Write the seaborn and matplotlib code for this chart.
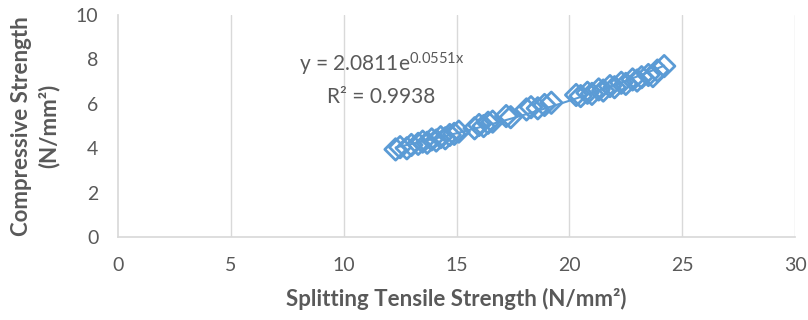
import numpy as np
import pandas as pd
import matplotlib
matplotlib.use("Agg")
import matplotlib.pyplot as plt
import seaborn as sns

# splitting tensile strength (x) vs compressive strength (y)
tensile = [12.3, 12.5, 12.8, 13.0, 13.3, 13.5, 13.7, 13.9, 14.1, 14.3, 14.5,
           14.7, 14.9, 15.1, 15.8, 16.0, 16.2, 16.4, 16.6, 17.2, 17.4, 18.1,
           18.3, 18.6, 18.9, 19.2, 20.3, 20.5, 20.8, 21.0, 21.3, 21.5, 21.8,
           22.0, 22.3, 22.5, 22.8, 23.0, 23.2, 23.5, 23.7, 23.9, 24.2]
compressive = [3.95, 4.05, 4.0, 4.15, 4.2, 4.3, 4.25, 4.4, 4.35, 4.5, 4.45,
               4.6, 4.65, 4.75, 4.9, 5.05, 5.0, 5.15, 5.2, 5.45, 5.4, 5.75,
               5.85, 5.8, 5.95, 6.05, 6.4, 6.35, 6.5, 6.45, 6.65, 6.6, 6.8,
               6.75, 6.95, 6.9, 7.1, 7.05, 7.2, 7.3, 7.25, 7.5, 7.7]
x_ticks = [0, 5, 10, 15, 20, 25, 30]
y_ticks = [0, 2, 4, 6, 8, 10]

blue = "#5B9BD5"
grey = "#595959"

sns.set_theme(style="white")
plt.rcParams['font.family'] = ['Lato', 'DejaVu Sans']
plt.rcParams['mathtext.fontset'] = 'custom'
plt.rcParams['mathtext.rm'] = 'Lato'
plt.rcParams['mathtext.it'] = 'Lato'

df = pd.DataFrame({"x": tensile, "y": compressive})

fig = plt.figure(figsize=(8.08, 3.2), dpi=100)
ax = fig.add_axes([0.146, 0.259, 0.838, 0.694])

# vertical gridlines only
for xt in x_ticks[1:]:
    ax.axvline(xt, color="#d9d9d9", lw=1, zorder=0)

sns.scatterplot(data=df, x="x", y="y", ax=ax, marker="D", s=120,
                facecolor="none", edgecolor=blue, linewidth=2, zorder=3)

# exponential trendline
b, ln_a = np.polyfit(df["x"], np.log(df["y"]), 1)
xs = np.linspace(df["x"].min(), df["x"].max(), 50)
ax.plot(xs, np.exp(ln_a) * np.exp(b * xs), color=blue, lw=1.5, zorder=2)

ax.text(8.0, 7.45, r"y = 2.0811e$^{\mathrm{0.0551x}}$", fontsize=15, color=grey)
ax.text(9.25, 6.05, "R² = 0.9938", fontsize=15, color=grey)

ax.set_xlim(0, 30)
ax.set_ylim(0, 10)
ax.set_xticks(x_ticks)
ax.set_yticks(y_ticks)
ax.tick_params(axis="both", colors=grey, labelsize=14, length=0)
ax.tick_params(axis="x", pad=14)
ax.tick_params(axis="y", pad=14)

for side in ["top", "right"]:
    ax.spines[side].set_visible(False)
ax.spines["left"].set_color("#d9d9d9")
ax.spines["bottom"].set_color("#d9d9d9")

ax.set_xlabel("Splitting Tensile Strength (N/mm²)", fontsize=16,
              fontweight="bold", color=grey, labelpad=10)
ax.set_ylabel("Compressive Strength\n(N/mm²)", fontsize=16,
              fontweight="bold", color=grey, labelpad=12, linespacing=1.3)

fig.savefig("out.png", dpi=100)
